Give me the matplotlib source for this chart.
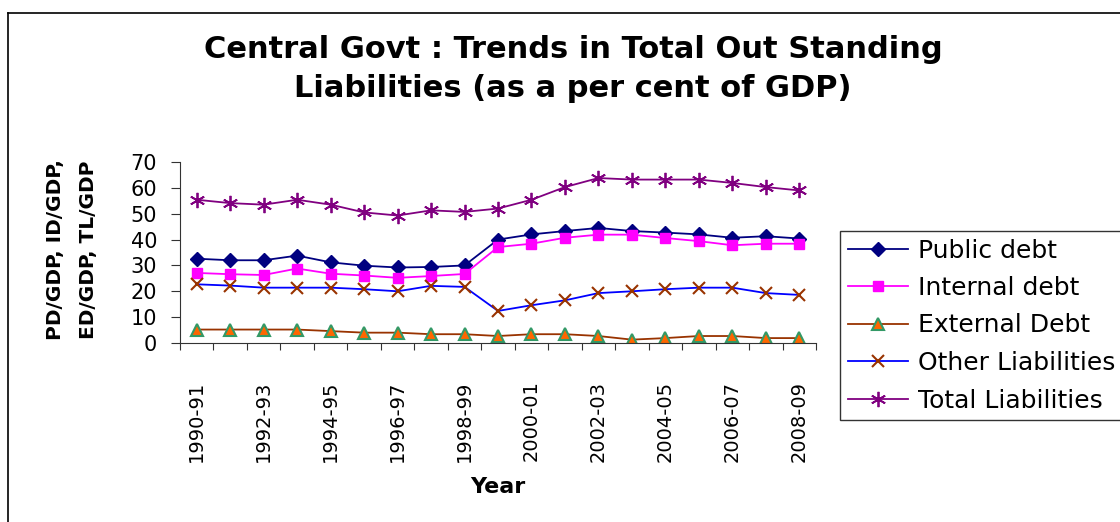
import numpy as np
import matplotlib
matplotlib.use('Agg')
import matplotlib.pyplot as plt
from matplotlib.lines import Line2D

plt.rcParams['font.family'] = 'DejaVu Sans'

# fiscal years on the x axis
years = ['1990-91', '1991-92', '1992-93', '1993-94', '1994-95', '1995-96', '1996-97',
         '1997-98', '1998-99', '1999-00', '2000-01', '2001-02', '2002-03', '2003-04',
         '2004-05', '2005-06', '2006-07', '2007-08', '2008-09']

# per cent of GDP
public_debt = [32.6, 32.0, 32.0, 33.8, 31.2, 29.9, 29.2, 29.4, 30.0, 40.0,
               42.0, 43.3, 44.5, 43.3, 42.7, 42.0, 40.7, 41.3, 40.4]
internal_debt = [27.1, 26.6, 26.3, 28.8, 26.8, 26.1, 25.2, 25.9, 26.7, 37.1,
                 38.4, 40.7, 41.9, 41.9, 40.6, 39.4, 37.8, 38.4, 38.4]
external_debt = [5.2, 5.2, 5.2, 5.2, 4.6, 4.0, 4.0, 3.4, 3.4, 2.7,
                 3.4, 3.4, 2.7, 1.3, 1.9, 2.7, 2.7, 1.9, 1.9]
other_liab = [22.7, 22.2, 21.4, 21.4, 21.4, 20.8, 20.0, 22.1, 21.7, 12.4,
              14.6, 16.5, 19.3, 20.0, 20.8, 21.4, 21.4, 19.3, 18.6]
total_liab = [55.4, 54.1, 53.5, 55.4, 53.5, 50.5, 49.3, 51.3, 50.7, 52.0,
              55.4, 60.3, 63.8, 63.2, 63.2, 63.2, 61.9, 60.3, 59.0]

x = np.arange(len(years))

fig = plt.figure(figsize=(11.2, 5.22), dpi=100)
ax = fig.add_axes([180 / 1120, 1 - 343 / 522, 636 / 1120, 181 / 522])

ax.plot(x, public_debt, color='#000080', lw=1.3, marker='D', ms=7.5,
        mfc='#000080', mec='#000080', label='Public debt')
ax.plot(x, internal_debt, color='#ff00ff', lw=1.3, marker='s', ms=7.5,
        mfc='#ff00ff', mec='#ff00ff', label='Internal debt')
ax.plot(x, external_debt, color='#993300', lw=1.3, marker='^', ms=8.5,
        mfc='#ff6600', mec='#339966', mew=1.5, label='External Debt')
ax.plot(x, other_liab, color='#0000ff', lw=1.3, marker='x', ms=8.5,
        mec='#993300', mew=1.5, label='Other Liabilities')
ax.plot(x, total_liab, color='#800080', lw=1.3, marker=(6, 2, 0), ms=11,
        mec='#800080', mew=1.3, label='Total Liabilities')

ax.set_ylim(0, 70)
ax.set_yticks(np.arange(0, 71, 10))
ax.set_xlim(-0.5, len(years) - 0.5)
# tick marks on category boundaries, labels on every other year
ax.set_xticks(np.arange(-0.5, len(years), 1))
ax.set_xticklabels([])
ax.set_xticks(x[::2], minor=True)
ax.set_xticklabels(years[::2], minor=True, rotation=90, fontsize=14)
ax.tick_params(axis='x', which='major', direction='out', length=5, color='#333333')
ax.tick_params(axis='x', which='minor', length=0, pad=27)
ax.tick_params(axis='y', direction='out', length=6.5, pad=10, labelsize=15, color='#333333')

for s in ['top', 'right']:
    ax.spines[s].set_visible(False)
for s in ['left', 'bottom']:
    ax.spines[s].set_color('#333333')

fig.text(498 / 1120, 1 - 487 / 522, 'Year', fontsize=16, fontweight='bold',
         ha='center', va='center')
fig.text(72 / 1120, 1 - 250 / 522, 'PD/GDP, ID/GDP,\nED/GDP, TL/GDP', fontsize=14.5,
         fontweight='bold', rotation=90, ha='center', va='center',
         multialignment='center', linespacing=1.9)
fig.text(573 / 1120, 1 - 69 / 522,
         'Central Govt : Trends in Total Out Standing\nLiabilities (as a per cent of GDP)',
         fontsize=22, fontweight='bold', ha='center', va='center', linespacing=1.4)

leg = fig.legend(loc='upper left', bbox_to_anchor=(840 / 1120, 1 - 231 / 522),
                 bbox_transform=fig.transFigure, fontsize=18, frameon=True,
                 fancybox=False, edgecolor='black', borderpad=0.3,
                 labelspacing=0.54, handlelength=2.4, handletextpad=0.4,
                 borderaxespad=0)
leg.get_frame().set_linewidth(1.0)

# outer chart frame (right and bottom edges fall off the picture)
fig.add_artist(Line2D([7.5 / 1120, 7.5 / 1120], [0, 1 - 12.5 / 522],
                      transform=fig.transFigure, color='black', lw=1.2))
fig.add_artist(Line2D([7.5 / 1120, 1], [1 - 12.5 / 522, 1 - 12.5 / 522],
                      transform=fig.transFigure, color='black', lw=1.2))

fig.savefig('out.png', dpi=100)
